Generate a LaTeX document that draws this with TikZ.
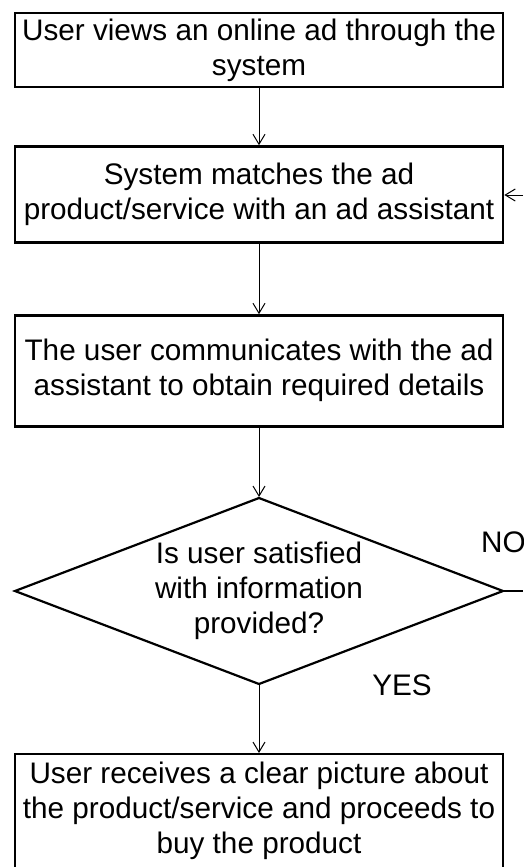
\documentclass[tikz,border=0pt]{standalone}
\usepackage{fontspec}
\setmainfont{Liberation Sans}
\usetikzlibrary{shapes.geometric,arrows.meta}
\begin{document}
\begin{tikzpicture}[x=1pt,y=-1pt,
  txt/.style={font=\fontsize{29.7}{35}\selectfont},
  box/.style={draw, line width=2.6pt, rectangle, align=center, inner sep=0pt, outer sep=0pt, minimum width=488pt, txt},
  dec/.style={draw, line width=2.2pt, diamond, inner sep=0pt, outer sep=0pt, minimum width=488pt, minimum height=186pt},
  arr/.style={line width=1pt, -{Straight Barb[length=10pt,width=12pt,line width=1pt]}},
  conn/.style={line width=1.2pt}]
\useasboundingbox (0,0) rectangle (523,867);
\clip (0,0) rectangle (523,867);
\node[box, minimum height=74pt] (b1) at (259,50) {User views an online ad through the\\system};
\node[box, minimum height=96pt] (b2) at (259,194.2) {System matches the ad\\product/service with an ad assistant};
\node[box, minimum height=111pt] (b3) at (259,370.7) {The user communicates with the ad\\assistant to obtain required details};
\node[dec] (d) at (259,591) {};
\node[txt, align=center, inner sep=0pt] (dt) at (d.center) {Is user satisfied\\with information\\provided?};
\node[box, minimum height=114pt] (b4) at (259,811) {User receives a clear picture about\\the product/service and proceeds to\\buy the product};
\node[txt, inner sep=0pt, anchor=base] (yes) at (402,695) {YES};
\node[txt, inner sep=0pt, anchor=base west] (no) at (481,552) {NO};
\coordinate (rout) at (523,591);
\coordinate (rin) at (523,195);
\draw[arr, shorten >=1pt] (b1.south) -- (b2.north);
\draw[arr, shorten >=1pt] (b2.south) -- (b3.north);
\draw[arr, shorten >=1pt] (b3.south) -- (d.north);
\draw[arr, shorten >=1pt] (d.south) -- (b4.north);
\draw[conn] (d.east) -- (rout);
\draw[arr, shorten >=1.3pt] (rin) -- (b2.east |- rin);
\end{tikzpicture}
\end{document}
